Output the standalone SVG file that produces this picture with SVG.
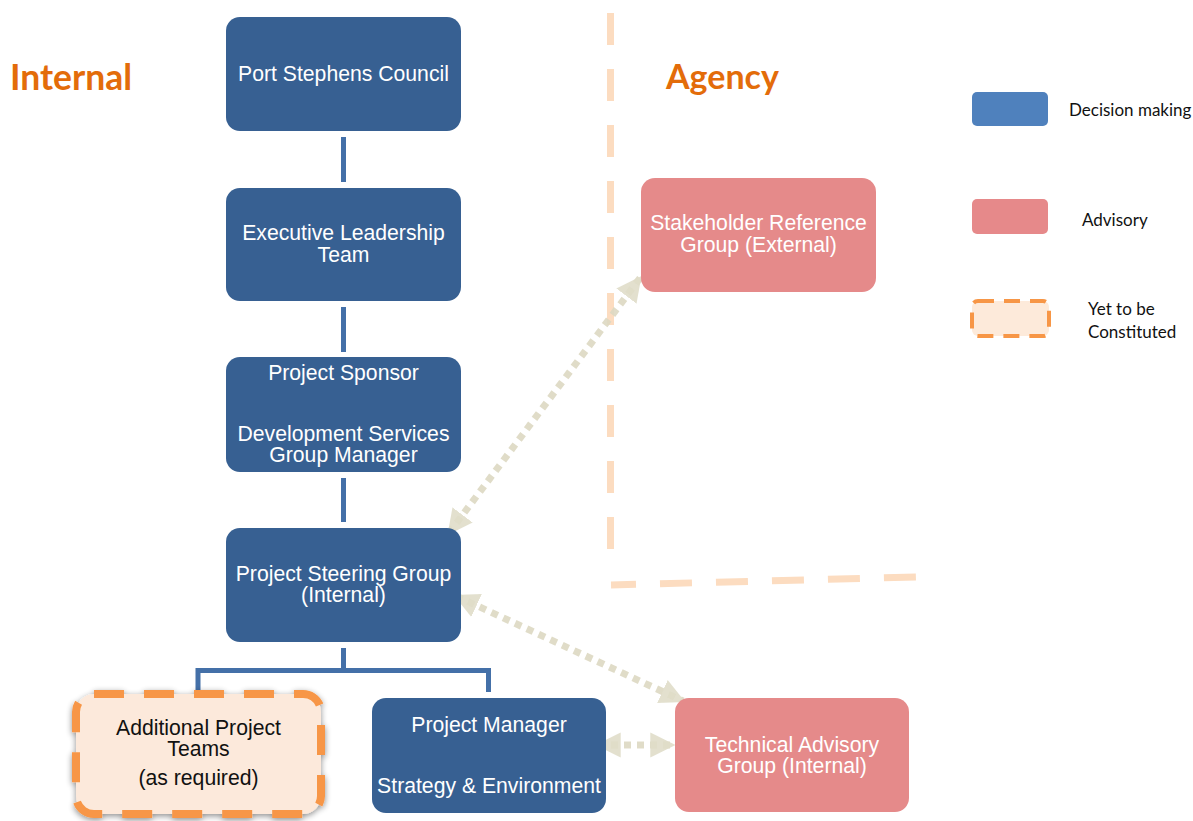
<svg xmlns="http://www.w3.org/2000/svg" width="1193" height="821" viewBox="0 0 1193 821">
  <defs>
    <style>
      .decision { fill: #376092; }
      .advisory { fill: #E58A8A; }
      .pending { fill: #FCE9DB; stroke: #F79646; stroke-width: 8; stroke-dasharray: 30 20; }
      .label { font-family: "Liberation Sans", Arial, sans-serif; font-size: 21.2px; fill: #FFFFFF; text-anchor: middle; }
      .label-dark { font-family: "Liberation Sans", Arial, sans-serif; font-size: 21.2px; fill: #111111; text-anchor: middle; }
      .heading { font-family: Lato, "Open Sans", sans-serif; font-weight: bold; font-size: 34px; fill: #E36C0A; }
      .legend-text { font-family: Lato, "Open Sans", sans-serif; font-size: 17px; fill: #111111; }
      .tree { stroke: #4470A8; stroke-width: 5; fill: none; }
      .boundary { stroke: #FCDCC0; stroke-width: 7; fill: none; stroke-dasharray: 32 24; }
      .link { stroke: #DDD9C3; stroke-width: 7; fill: none; stroke-dasharray: 7 6; opacity: 0.9; }
    </style>
    <marker id="head" viewBox="0 0 10 10" refX="9" refY="5" markerWidth="3.6" markerHeight="3.6" orient="auto-start-reverse" markerUnits="strokeWidth">
      <path d="M0,0 L10,5 L0,10 Z" fill="#DDD9C3" opacity="0.9"/>
    </marker>
    <filter id="shadow" x="-10%" y="-10%" width="120%" height="125%">
      <feGaussianBlur in="SourceAlpha" stdDeviation="3"/>
      <feOffset dx="0" dy="2" result="b"/>
      <feComponentTransfer><feFuncA type="linear" slope="0.45"/></feComponentTransfer>
      <feMerge><feMergeNode/><feMergeNode in="SourceGraphic"/></feMerge>
    </filter>
  </defs>

  <rect width="1193" height="821" fill="#FFFFFF"/>

  <!-- internal / agency boundary -->
  <g id="boundaries">
    <line class="boundary" x1="610.5" y1="13" x2="610.5" y2="549"/>
    <line class="boundary" x1="611" y1="585" x2="916" y2="577" stroke-dashoffset="7"/>
  </g>

  <text class="heading" x="10" y="90" style="font-size:35.5px">Internal</text>
  <text class="heading" x="666" y="89">Agency</text>

  <!-- reporting lines -->
  <g id="connectors">
    <line class="tree" x1="343.5" y1="137" x2="343.5" y2="182"/>
    <line class="tree" x1="343.5" y1="307" x2="343.5" y2="352"/>
    <line class="tree" x1="343.5" y1="478" x2="343.5" y2="522"/>
    <polyline class="tree" points="343.5,648 343.5,670.5"/>
    <polyline class="tree" points="198,692 198,670.5 488.5,670.5 488.5,692"/>
    <line class="link" x1="640" y1="278" x2="449" y2="533" marker-start="url(#head)" marker-end="url(#head)"/>
    <line class="link" x1="456" y1="596" x2="683" y2="701" marker-start="url(#head)" marker-end="url(#head)"/>
    <line class="link" x1="598" y1="745" x2="673" y2="745" marker-start="url(#head)" marker-end="url(#head)"/>
  </g>

  <g id="port-stephens-council">
    <rect class="decision" x="226" y="17" width="235" height="114" rx="14"/>
    <text class="label" x="343.5" y="81">Port Stephens Council</text>
  </g>

  <g id="executive-leadership-team">
    <rect class="decision" x="226" y="188" width="235" height="113" rx="14"/>
    <text class="label" x="343.5" y="240">Executive Leadership</text>
    <text class="label" x="343.5" y="262">Team</text>
  </g>

  <g id="project-sponsor">
    <rect class="decision" x="226" y="357" width="235" height="115" rx="14"/>
    <text class="label" x="343.5" y="380">Project Sponsor</text>
    <text class="label" x="343.5" y="441">Development Services</text>
    <text class="label" x="343.5" y="462">Group Manager</text>
  </g>

  <g id="project-steering-group">
    <rect class="decision" x="226" y="528" width="235" height="114" rx="14"/>
    <text class="label" x="343.5" y="581">Project Steering Group</text>
    <text class="label" x="343.5" y="602">(Internal)</text>
  </g>

  <g id="additional-project-teams">
    <rect class="pending" x="76" y="694" width="245" height="120" rx="18" filter="url(#shadow)"/>
    <text class="label-dark" x="198.5" y="735">Additional Project</text>
    <text class="label-dark" x="198.5" y="756">Teams</text>
    <text class="label-dark" x="198.5" y="785">(as required)</text>
  </g>

  <g id="project-manager">
    <rect class="decision" x="372" y="698" width="234" height="115" rx="14"/>
    <text class="label" x="489" y="732">Project Manager</text>
    <text class="label" x="489" y="793">Strategy &amp; Environment</text>
  </g>

  <g id="stakeholder-reference-group">
    <rect class="advisory" x="641" y="178" width="235" height="114" rx="14"/>
    <text class="label" x="758.5" y="230">Stakeholder Reference</text>
    <text class="label" x="758.5" y="252">Group (External)</text>
  </g>

  <g id="technical-advisory-group">
    <rect class="advisory" x="675" y="698" width="234" height="114" rx="14"/>
    <text class="label" x="792" y="752">Technical Advisory</text>
    <text class="label" x="792" y="773">Group (Internal)</text>
  </g>

  <!-- key -->
  <g id="legend">
    <rect x="972" y="92" width="76" height="34" rx="5" fill="#4F81BD"/>
    <text class="legend-text" x="1069" y="116">Decision making</text>
    <rect x="972" y="199" width="76" height="35" rx="5" fill="#E6898A"/>
    <text class="legend-text" x="1082" y="226">Advisory</text>
    <rect x="972" y="301" width="77" height="35" rx="6" fill="#FDEADA" stroke="#F79646" stroke-width="4" stroke-dasharray="16 10"/>
    <text class="legend-text" x="1088" y="315">Yet to be</text>
    <text class="legend-text" x="1088" y="338">Constituted</text>
  </g>
</svg>
